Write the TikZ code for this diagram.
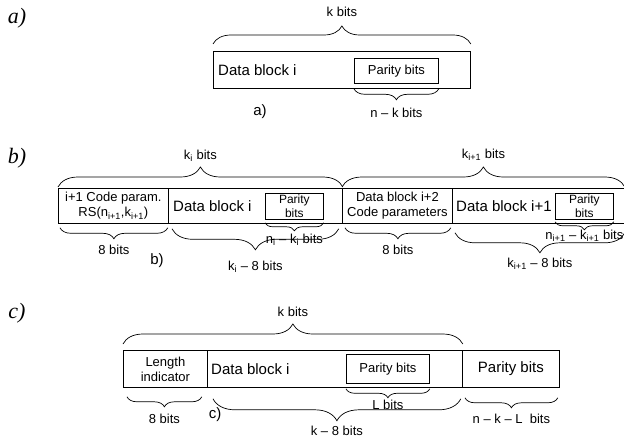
\documentclass[tikz,border=0pt]{standalone}
\usepackage{fontspec}
\setmainfont{Liberation Sans}
\newfontfamily\tagfont{Liberation Serif}
\usetikzlibrary{decorations.pathreplacing,positioning}

\tikzset{
  cellbox/.style={draw, line width=0.8pt, inner sep=0pt, anchor=north west, align=center},
  bigtext/.style={font=\fontsize{15}{17}\selectfont, inner sep=0pt},
  smalltext/.style={font=\fontsize{13}{15}\selectfont, inner sep=0pt, align=center},
  paneltag/.style={font=\fontsize{22}{24}\selectfont\tagfont\itshape, inner sep=0pt},
  topbrace/.style={decorate, decoration={brace, amplitude=#1}, line width=0.7pt},
  lowbrace/.style={decorate, decoration={brace, mirror, amplitude=#1}, line width=0.7pt},
}

\begin{document}
\begin{tikzpicture}[x=1pt, y=-1pt]
  \useasboundingbox (0,0) rectangle (624,441);
  % a) one block
  \node[paneltag] (taga) at (17,18) {a)};
  \node[cellbox, minimum width=257pt, minimum height=37pt] (blka) at (213,51) {};
  \node[bigtext, anchor=west] (dba) at ([xshift=5pt]blka.west) {Data block i};
  \node[cellbox, smalltext, minimum width=84pt, minimum height=25pt] (para) at (354,58) {Parity bits};
  \draw[topbrace=18] ([yshift=7pt]blka.north west) -- ([yshift=7pt]blka.north east)
    node[midway, yshift=32pt, smalltext] (ka) {k bits};
  \draw[lowbrace=11] (para.west |- blka.south) -- (para.east |- blka.south)
    node[midway, yshift=-24pt, smalltext] (nka) {n – k bits};
  \node[bigtext] (capa) at (260,112) {a)};

  % b) chained blocks
  \node[paneltag] (tagb) at (17,158) {b)};
  \node[cellbox, smalltext, minimum width=110pt, minimum height=35pt] (cb1) at (58,188)
    {i+1 Code param.\\RS(n\textsubscript{i+1},k\textsubscript{i+1})};
  \node[cellbox, minimum width=174pt, minimum height=35pt] (cb2) at (168,188) {};
  \node[cellbox, smalltext, minimum width=110pt, minimum height=35pt] (cb3) at (342,188)
    {Data block i+2\\Code parameters};
  \node[cellbox, minimum width=174pt, minimum height=35pt] (cb4) at (452,188) {};
  \node[bigtext, anchor=west] (dbb) at ([xshift=5pt]cb2.west) {Data block i};
  \node[bigtext, anchor=west] (dbc) at ([xshift=4pt]cb4.west) {Data block i+1};
  \node[cellbox, minimum width=58pt, minimum height=26pt,
        font=\fontsize{12}{14}\selectfont] (pb2) at (265,193) {Parity\\bits};
  \node[cellbox, minimum width=58pt, minimum height=26pt,
        font=\fontsize{12}{14}\selectfont] (pb4) at (555,193) {Parity\\bits};
  \draw[topbrace=20] ([yshift=1pt]cb1.north west) -- ([yshift=1pt]cb2.north east)
    node[midway, yshift=31pt, smalltext] (kib) {k\textsubscript{i} bits};
  \draw[topbrace=20] ([yshift=1pt]cb3.north west) -- ([xshift=-2pt, yshift=1pt]cb4.north east)
    node[midway, yshift=32pt, smalltext] (kjb) {k\textsubscript{i+1} bits};
  \draw[lowbrace=11] ([xshift=2pt, yshift=-4pt]cb1.south west) -- ([xshift=-1pt, yshift=-4pt]cb1.south east)
    node[midway, yshift=-22pt, smalltext] (eb1) {8 bits};
  \draw[lowbrace=21] ([xshift=4pt, yshift=-5pt]cb2.south west) -- ([xshift=-4pt, yshift=-5pt]cb2.south east)
    node[midway, yshift=-38pt, smalltext] (kib8) {k\textsubscript{i} – 8 bits};
  \draw[lowbrace=8] ([yshift=-3pt]pb2.south west) -- ([yshift=-3pt]pb2.south east)
    node[midway, yshift=-17pt, smalltext] (nkib) {n\textsubscript{i} – k\textsubscript{i} bits};
  \draw[lowbrace=11] ([xshift=3pt, yshift=-4pt]cb3.south west) -- ([xshift=-2pt, yshift=-4pt]cb3.south east)
    node[midway, yshift=-22pt, smalltext] (eb3) {8 bits};
  \draw[lowbrace=20] ([xshift=3pt, yshift=-9pt]cb4.south west) -- ([xshift=-2pt, yshift=-9pt]cb4.south east)
    node[midway, yshift=-31pt, smalltext] (kjb8) {k\textsubscript{i+1} – 8 bits};
  \draw[lowbrace=8] ([yshift=-2pt]pb4.south west) -- ([yshift=-2pt]pb4.south east)
    node[midway, yshift=-14pt, smalltext] (nkjb) {n\textsubscript{i+1} – k\textsubscript{i+1} bits};
  \node[bigtext] (capb) at (157,261) {b)};

  % c) length indicator
  \node[paneltag] (tagc) at (17,313) {c)};
  \node[cellbox, smalltext, minimum width=84pt, minimum height=37pt] (cc1) at (123,350)
    {Length\\indicator};
  \node[cellbox, minimum width=255pt, minimum height=37pt] (cc2) at (207,350) {};
  \node[cellbox, bigtext, minimum width=97pt, minimum height=37pt] (cc3) at (462,350) {Parity bits};
  \node[bigtext, anchor=west] (dbd) at ([xshift=4pt]cc2.west) {Data block i};
  \node[cellbox, smalltext, minimum width=83pt, minimum height=29pt] (pc) at (346,354) {Parity bits};
  \draw[topbrace=20] ([yshift=6pt]cc1.north west) -- ([yshift=6pt]cc2.north east)
    node[midway, yshift=32pt, smalltext] (kc) {k bits};
  \draw[lowbrace=10] ([xshift=4pt, yshift=-9pt]cc1.south west) -- ([xshift=-6pt, yshift=-9pt]cc1.south east)
    node[midway, yshift=-22pt, smalltext] (ec1) {8 bits};
  \draw[lowbrace=9] ([yshift=-1pt]pc.west |- cc2.south) -- ([yshift=-1pt]pc.east |- cc2.south)
    node[midway, yshift=-16pt, smalltext] (lc) {L bits};
  \draw[lowbrace=22] ([xshift=6pt, yshift=-11pt]cc2.south west) -- ([xshift=-2pt, yshift=-11pt]cc2.south east)
    node[midway, yshift=-32pt, smalltext] (kc8) {k – 8 bits};
  \draw[lowbrace=10] ([xshift=3pt, yshift=-10pt]cc3.south west) -- ([xshift=-2pt, yshift=-10pt]cc3.south east)
    node[midway, yshift=-21pt, smalltext] (nklc) {n – k – L\ \ bits};
  \node[bigtext] (capc) at (215,415) {c)};
\end{tikzpicture}
\end{document}
